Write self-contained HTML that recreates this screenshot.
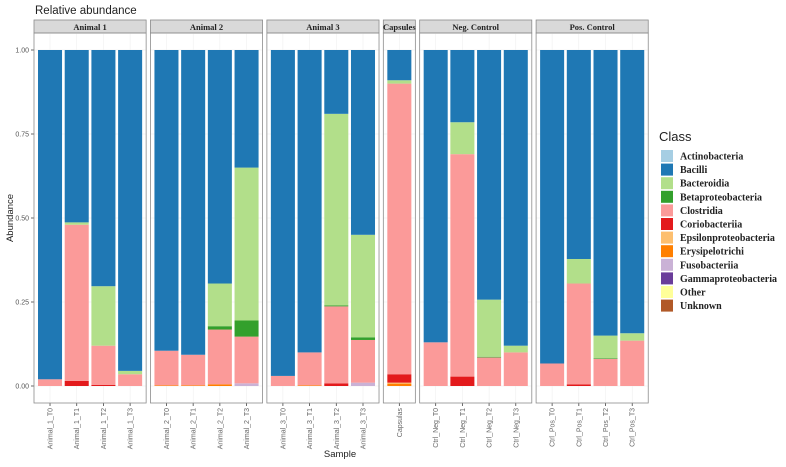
<!DOCTYPE html>
<html><head><meta charset="utf-8"><style>
body{margin:0;background:#fff;}
svg text{font-family:"Liberation Sans",sans-serif;}
svg text.serif{font-family:"Liberation Serif",serif;}
</style></head><body>
<svg id="chart" width="786" height="462" xmlns="http://www.w3.org/2000/svg">
<text x="35" y="14" font-size="11.5" fill="#222">Relative abundance</text>
<text x="0" y="0" font-size="9.5" fill="#222" transform="translate(13,218) rotate(-90)" text-anchor="middle">Abundance</text>
<text x="340" y="457" font-size="9.5" fill="#222" text-anchor="middle">Sample</text>
<g id="panels"></g>
<g id="legend"></g>
</svg>
<script>
const samples=["Animal_1_T0","Animal_1_T1","Animal_1_T2","Animal_1_T3","Animal_2_T0","Animal_2_T1","Animal_2_T2","Animal_2_T3","Animal_3_T0","Animal_3_T1","Animal_3_T2","Animal_3_T3","Capsulas","Ctrl_Neg_T0","Ctrl_Neg_T1","Ctrl_Neg_T2","Ctrl_Neg_T3","Ctrl_Pos_T0","Ctrl_Pos_T1","Ctrl_Pos_T2","Ctrl_Pos_T3"];
const panelNames=["Animal 1","Animal 2","Animal 3","Capsules","Neg. Control","Pos. Control"];
const panelSizes=[4,4,4,1,4,4];
const classes=["Actinobacteria","Bacilli","Bacteroidia","Betaproteobacteria","Clostridia","Coriobacteriia","Epsilonproteobacteria","Erysipelotrichi","Fusobacteriia","Gammaproteobacteria","Other","Unknown"];
const colors=["#A6CEE3","#1F78B4","#B2DF8A","#33A02C","#FB9A99","#E31A1C","#FDBF6F","#FF7F00","#CAB2D6","#6A3D9A","#FFFF99","#B15928"];
const yTicks=[0,0.25,0.5,0.75,1];
const yTickLabels=["0.00","0.25","0.50","0.75","1.00"];
const actino=[0,0,0,0,0,0,0,0,0,0,0,0,0,0,0,0,0,0,0,0,0];
const bacilli=[0.98,0.513,0.703,0.955,0.895,0.907,0.695,0.35,0.97,0.90,0.19,0.55,0.09,0.87,0.215,0.743,0.88,0.933,0.622,0.85,0.843];
const bacteroidia=[0,0.007,0.177,0.01,0,0,0.127,0.455,0,0,0.57,0.305,0.01,0,0.095,0.17,0.02,0,0.073,0.067,0.022];
const betaproteo=[0,0,0,0,0,0,0.01,0.048,0,0,0.003,0.008,0,0,0,0.002,0,0,0,0.002,0];
const clostridia=[0.02,0.465,0.117,0.035,0.103,0.091,0.163,0.139,0.03,0.098,0.229,0.127,0.865,0.13,0.662,0.085,0.10,0.067,0.30,0.081,0.135];
const corio=[0,0.015,0.003,0,0,0,0,0,0,0,0.008,0,0.025,0,0.028,0,0,0,0.005,0,0];
const epsilon=[0,0,0,0,0,0,0,0,0,0,0,0,0.003,0,0,0,0,0,0,0,0];
const erysip=[0,0,0,0,0.002,0.002,0.005,0,0,0.002,0,0,0.007,0,0,0,0,0,0,0,0];
const fuso=[0,0,0,0,0,0,0,0.008,0,0,0,0.01,0,0,0,0,0,0,0,0,0];
const gamma=[0,0,0,0,0,0,0,0,0,0,0,0,0,0,0,0,0,0,0,0,0];
const other=[0,0,0,0,0,0,0,0,0,0,0,0,0,0,0,0,0,0,0,0,0];
const unknown=[0,0,0,0,0,0,0,0,0,0,0,0,0,0,0,0,0,0,0,0,0];
const series=[actino,bacilli,bacteroidia,betaproteo,clostridia,corio,epsilon,erysip,fuso,gamma,other,unknown];

const NS="http://www.w3.org/2000/svg";
function mk(tag,attrs,parent){const e=document.createElementNS(NS,tag);for(const k in attrs)e.setAttribute(k,attrs[k]);parent.appendChild(e);return e;}
const y0=386,y1=50;
function yScale(v){return y0-(y0-y1)*v;}
const unit=26.7, panelTop=33, panelBot=403, stripTop=20, gap=4.3;
const panels=document.getElementById('panels');
let px=34, si=0;
yTicks.forEach((t,i)=>{
  const tk=mk('line',{x1:31,x2:34,y1:yScale(t),y2:yScale(t),stroke:'#444','stroke-width':0.8},panels);
  
  
  const lb=mk('text',{x:29,y:yScale(t)+2.5,'font-size':7,fill:'#555','text-anchor':'end'},panels);
  lb.textContent=yTickLabels[i];
  
  
});
panelNames.forEach((pn,pi)=>{
  const n=panelSizes[pi], w=unit*(n+0.2);
  const g=mk('g',{},panels);
  
  
  yTicks.forEach(t=>{mk('line',{x1:px,x2:px+w,y1:yScale(t),y2:yScale(t),stroke:'#ececec','stroke-width':0.5},g);});
  const st=mk('rect',{x:px,y:stripTop,width:w,height:panelTop-stripTop,fill:'#d9d9d9',stroke:'#8c8c8c','stroke-width':0.8},g);
  
  
  const stt=mk('text',{x:px+w/2,y:30,'font-size':8.5,'font-weight':'bold',fill:'#222','text-anchor':'middle','class':'serif'},g);
  stt.textContent=pn;
  
  
  for(let k=0;k<n;k++){
    const cx=px+unit*(0.6+k), s=si+k;
    mk('line',{x1:cx,x2:cx,y1:panelTop,y2:panelBot,stroke:'#ececec','stroke-width':0.5},g);
    let cum=0;
    for(let c=series.length-1;c>=0;c--){
      const v=series[c][s]; if(v<=0) continue;
      const r=mk('rect',{x:cx-unit*0.45,y:yScale(cum+v),width:unit*0.9,height:yScale(cum)-yScale(cum+v),fill:colors[c]},g);
      
      
      cum+=v;
    }
    mk('line',{x1:cx,x2:cx,y1:panelBot,y2:panelBot+3,stroke:'#444','stroke-width':0.8},g);
    const xl=mk('text',{x:0,y:0,'font-size':7,fill:'#666','text-anchor':'end',transform:`translate(${cx+2.5},${panelBot+5}) rotate(-90)`},g);
    xl.textContent=samples[s];
    
    
  }
  mk('rect',{x:px,y:panelTop,width:w,height:panelBot-panelTop,fill:'none',stroke:'#8c8c8c','stroke-width':0.8},g);
  si+=n; px+=w+gap;
});
const lg=document.getElementById('legend');
const lt=mk('text',{x:659,y:141,'font-size':13,fill:'#222'},lg);
lt.textContent='Class';


classes.forEach((c,i)=>{
  const y=150+i*13.6;
  const g=mk('g',{},lg);
  
  
  mk('rect',{x:661,y:y,width:12,height:12,fill:colors[i]},g);
  const t=mk('text',{x:680,y:y+9.5,'font-size':10,'font-weight':'bold',fill:'#222','class':'serif'},g);
  t.textContent=c;
});
</script>
</body></html>
